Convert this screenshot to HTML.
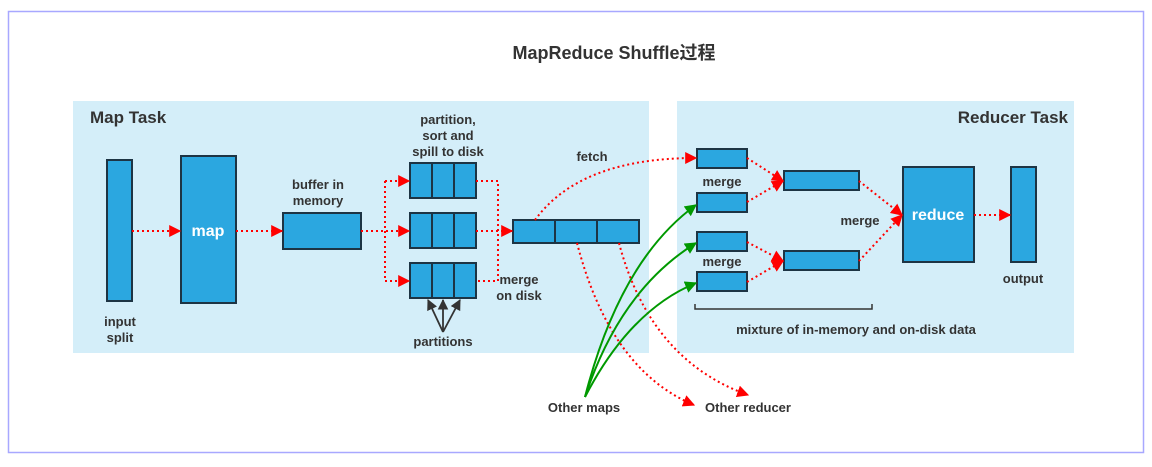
<!DOCTYPE html>
<html><head><meta charset="utf-8"><style>
html,body{margin:0;padding:0;background:#fff;}
svg text{font-family:"Liberation Sans","Noto Sans CJK SC",sans-serif;font-weight:bold;fill:#333;}
</style></head><body>
<svg width="1152" height="462" viewBox="0 0 1152 462" xmlns="http://www.w3.org/2000/svg">
<defs>
<marker id="r" viewBox="0 0 10 10" refX="9" refY="5" markerWidth="6" markerHeight="6" orient="auto" markerUnits="strokeWidth"><path d="M0,0L10,5L0,10z" fill="#f00"/></marker>
<marker id="g" viewBox="0 0 10 10" refX="9" refY="5" markerWidth="6" markerHeight="6" orient="auto" markerUnits="strokeWidth"><path d="M0,0L10,5L0,10z" fill="#090"/></marker>
<marker id="k" viewBox="0 0 10 10" refX="9" refY="5" markerWidth="6" markerHeight="6" orient="auto" markerUnits="strokeWidth"><path d="M0,0L10,5L0,10z" fill="#333"/></marker>
</defs>
<rect x="8.5" y="11.5" width="1135" height="441" fill="#fff" stroke="#a8a8ff" stroke-width="1.5"/>
<text x="614" y="59" font-size="18" text-anchor="middle">MapReduce Shuffle过程</text>
<rect x="73" y="101" width="576" height="252" fill="#d4eef9"/>
<rect x="677" y="101" width="397" height="252" fill="#d4eef9"/>
<text x="90" y="123" font-size="17">Map Task</text>
<text x="1068" y="123" font-size="17" text-anchor="end">Reducer Task</text>
<g fill="#2ba7e0" stroke="#1d3444" stroke-width="2">
<rect x="107" y="160" width="25" height="141"/>
<rect x="181" y="156" width="55" height="147"/>
<rect x="283" y="213" width="78" height="36"/>
<rect x="410" y="163" width="66" height="35"/><rect x="410" y="213" width="66" height="35"/><rect x="410" y="263" width="66" height="35"/>
<rect x="513" y="220" width="126" height="23"/>
<rect x="697" y="149" width="50" height="19"/><rect x="697" y="193" width="50" height="19"/>
<rect x="697" y="232" width="50" height="19"/><rect x="697" y="272" width="50" height="19"/>
<rect x="784" y="171" width="75" height="19"/><rect x="784" y="251" width="75" height="19"/>
<rect x="903" y="167" width="71" height="95"/>
<rect x="1011" y="167" width="25" height="95"/>
</g>
<g stroke="#1d3444" stroke-width="2">
<path d="M432 163v35M454 163v35M432 213v35M454 213v35M432 263v35M454 263v35M555 220v23M597 220v23"/>
</g>
<text x="208" y="236" font-size="16" text-anchor="middle" style="fill:#fff">map</text>
<text x="938" y="220" font-size="16" text-anchor="middle" style="fill:#fff">reduce</text>
<g font-size="13" text-anchor="middle">
<text x="120" y="326">input</text><text x="120" y="342">split</text>
<text x="318" y="189">buffer in</text><text x="318" y="205">memory</text>
<text x="448" y="124">partition,</text><text x="448" y="140">sort and</text><text x="448" y="156">spill to disk</text>
<text x="592" y="161">fetch</text>
<text x="519" y="284">merge</text><text x="519" y="300">on disk</text>
<text x="443" y="346">partitions</text>
<text x="722" y="186">merge</text><text x="722" y="266">merge</text>
<text x="860" y="225">merge</text>
<text x="1023" y="283">output</text>
<text x="856" y="334">mixture of in-memory and on-disk data</text>
<text x="584" y="412">Other maps</text>
<text x="748" y="412">Other reducer</text>
</g>
<path d="M695 304v5h177v-5" fill="none" stroke="#333" stroke-width="1.5"/>
<g stroke="#333" stroke-width="1.8" fill="none" marker-end="url(#k)">
<path d="M443 332L428 300"/><path d="M443 332L443 300"/><path d="M443 332L460 300"/>
</g>
<g stroke="#f00" stroke-width="2" stroke-dasharray="2,3" fill="none">
<path d="M132 231H180" marker-end="url(#r)"/>
<path d="M236 231H282" marker-end="url(#r)"/>
<path d="M361 231H409" marker-end="url(#r)"/>
<path d="M385 181V281"/>
<path d="M385 181H409" marker-end="url(#r)"/>
<path d="M385 281H409" marker-end="url(#r)"/>
<path d="M476 181H498V281H476M476 231H512" marker-end="url(#r)"/>
<path d="M535 220Q580 158 696 158" marker-end="url(#r)"/>
<path d="M577 243Q610 370 694 405" marker-end="url(#r)"/>
<path d="M619 243Q650 360 748 395" marker-end="url(#r)"/>
<path d="M747 158L783 181" marker-end="url(#r)"/>
<path d="M747 202L783 181" marker-end="url(#r)"/>
<path d="M747 242L783 261" marker-end="url(#r)"/>
<path d="M747 282L783 261" marker-end="url(#r)"/>
<path d="M859 181L902 215" marker-end="url(#r)"/>
<path d="M859 261L902 215" marker-end="url(#r)"/>
<path d="M974 215H1010" marker-end="url(#r)"/>
</g>
<g stroke="#090" stroke-width="2" fill="none" marker-end="url(#g)">
<path d="M585 397Q620 260 696 205"/>
<path d="M585 397Q620 290 696 243"/>
<path d="M585 397Q630 310 696 283"/>
</g>
</svg>
</body></html>
